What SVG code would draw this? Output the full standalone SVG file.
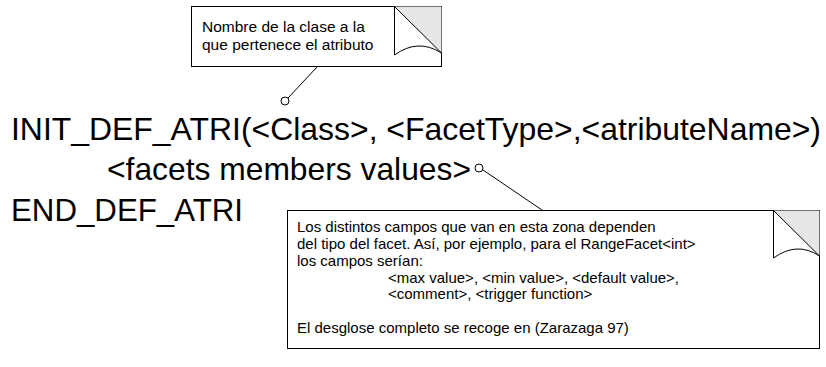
<svg xmlns="http://www.w3.org/2000/svg" width="826" height="367" viewBox="0 0 826 367">
<style>
.box{fill:#fff;stroke:#000;stroke-width:1}
.fold{fill:#e6e6e6;stroke:none}
.fl{fill:none;stroke:#000;stroke-width:1}
.code{font-family:"Liberation Sans",Arial,sans-serif;font-size:32px;fill:#000}
.nt{font-family:"Liberation Sans",Arial,sans-serif;font-size:15px;fill:#000}
.nt1{font-family:"Liberation Sans",Arial,sans-serif;font-size:15.5px;fill:#000}
.con{fill:none;stroke:#000;stroke-width:1}
.anc{fill:#fff;stroke:#000;stroke-width:1}
</style>
<rect width="826" height="367" fill="#fff"/>
<g id="code">
<text class="code" x="11" y="140" textLength="810" lengthAdjust="spacingAndGlyphs">INIT_DEF_ATRI(&lt;Class&gt;, &lt;FacetType&gt;,&lt;atributeName&gt;)</text>
<text class="code" x="107" y="180" textLength="364" lengthAdjust="spacingAndGlyphs">&lt;facets members values&gt;</text>
<text class="code" x="11" y="221" textLength="232" lengthAdjust="spacingAndGlyphs">END_DEF_ATRI</text>
</g>
<g id="note-clase">
<rect class="box" x="191.5" y="6.5" width="250" height="60"/>
<path class="fold" d="M394.5,6.5 L441.5,6.5 L441.5,53 Z"/>
<path class="fl" d="M394.5,6.5 V55 M394.5,6.5 L441.5,53 M394.5,55 Q418,38 441.5,53"/>
<text class="nt1" x="202" y="32">Nombre de la clase a la</text>
<text class="nt1" x="202" y="50">que pertenece el atributo</text>
</g>
<g id="note-campos">
<rect class="box" x="287.5" y="210.5" width="532" height="138"/>
<path class="fold" d="M773.5,210.5 L819.5,210.5 L819.5,256 Z"/>
<path class="fl" d="M773.5,210.5 V258 M773.5,210.5 L819.5,256 M773.5,258 Q797,241 819.5,256"/>
<text class="nt" x="297" y="232">Los distintos campos que van en esta zona dependen</text>
<text class="nt" x="297" y="249">del tipo del facet. Así, por ejemplo, para el RangeFacet&lt;int&gt;</text>
<text class="nt" x="297" y="266">los campos serían:</text>
<text class="nt" x="388" y="283">&lt;max value&gt;, &lt;min value&gt;, &lt;default value&gt;,</text>
<text class="nt" x="388" y="299">&lt;comment&gt;, &lt;trigger function&gt;</text>
<text class="nt" x="297" y="333">El desglose completo se recoge en (Zarazaga 97)</text>
</g>
<g id="connectors">
<line class="con" x1="317" y1="67" x2="288" y2="98"/>
<circle class="anc" cx="285" cy="101" r="4"/>
<line class="con" x1="483" y1="170" x2="542" y2="210"/>
<circle class="anc" cx="479" cy="168" r="4"/>
</g>
</svg>
